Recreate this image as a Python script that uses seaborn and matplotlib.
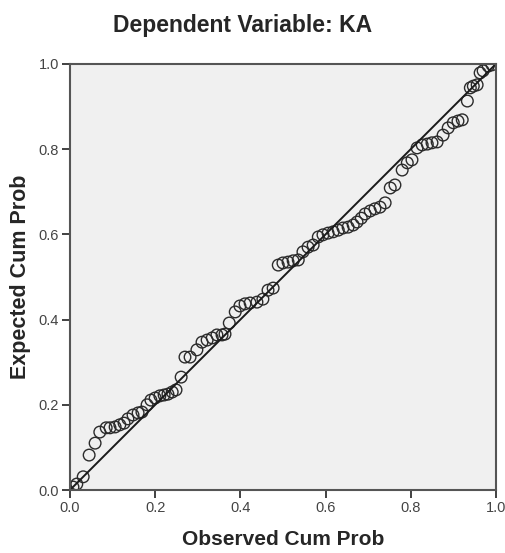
import matplotlib
matplotlib.use('Agg')
import matplotlib.pyplot as plt
import seaborn as sns
import pandas as pd

# observed vs expected cumulative probability
observed = [0.007, 0.016, 0.031, 0.045, 0.059, 0.070, 0.085, 0.094, 0.106, 0.117,
            0.127, 0.136, 0.148, 0.160, 0.169, 0.181, 0.190, 0.200, 0.211, 0.221,
            0.230, 0.240, 0.249, 0.261, 0.270, 0.282, 0.298, 0.310, 0.322, 0.334,
            0.345, 0.357, 0.364, 0.374, 0.388, 0.399, 0.411, 0.423, 0.439, 0.453,
            0.465, 0.477, 0.489, 0.500, 0.512, 0.524, 0.536, 0.547, 0.559, 0.571,
            0.583, 0.594, 0.606, 0.618, 0.630, 0.641, 0.653, 0.665, 0.674, 0.684,
            0.693, 0.705, 0.716, 0.728, 0.740, 0.752, 0.763, 0.780, 0.792, 0.803,
            0.815, 0.827, 0.839, 0.850, 0.862, 0.876, 0.888, 0.900, 0.911, 0.921,
            0.933, 0.940, 0.947, 0.956, 0.963, 0.970, 0.982, 0.991]
expected = [0.007, 0.014, 0.031, 0.082, 0.110, 0.136, 0.146, 0.146, 0.148, 0.153,
            0.157, 0.167, 0.176, 0.181, 0.183, 0.200, 0.211, 0.216, 0.221, 0.223,
            0.225, 0.230, 0.235, 0.265, 0.312, 0.312, 0.329, 0.347, 0.352, 0.357,
            0.364, 0.364, 0.366, 0.392, 0.418, 0.432, 0.437, 0.439, 0.441, 0.448,
            0.469, 0.474, 0.528, 0.533, 0.535, 0.538, 0.540, 0.559, 0.570, 0.575,
            0.594, 0.599, 0.603, 0.606, 0.610, 0.615, 0.617, 0.622, 0.629, 0.638,
            0.648, 0.655, 0.660, 0.664, 0.674, 0.709, 0.716, 0.751, 0.768, 0.775,
            0.803, 0.810, 0.812, 0.815, 0.817, 0.833, 0.850, 0.862, 0.866, 0.869,
            0.913, 0.944, 0.948, 0.951, 0.979, 0.984, 0.995, 0.998]
diag = [0.0, 1.0]
ticks = [0.0, 0.2, 0.4, 0.6, 0.8, 1.0]
tick_labels = ['0.0', '0.2', '0.4', '0.6', '0.8', '1.0']

sns.set_style("white")
plt.rcParams['font.family'] = ['Liberation Sans', 'DejaVu Sans']

df = pd.DataFrame({'obs': observed, 'exp': expected})

fig = plt.figure(figsize=(5.06, 5.53), dpi=100)
ax = fig.add_axes([0.1383, 0.1139, 0.8417, 0.7704])
ax.set_facecolor('#f0f0f0')

sns.lineplot(x=diag, y=diag, color='#1a1a1a', linewidth=1.4, ax=ax)
sns.scatterplot(data=df, x='obs', y='exp', ax=ax, s=70, marker='o',
                facecolor='none', edgecolor='#2b2b2b', linewidth=1.0)

ax.set_xlim(0, 1)
ax.set_ylim(0, 1)
ax.set_xticks(ticks)
ax.set_xticklabels(tick_labels)
ax.set_yticks(ticks)
ax.set_yticklabels(tick_labels)
ax.tick_params(axis='both', direction='out', length=6, width=1.3,
               color='#333333', labelsize=10.5, labelcolor='#444444', pad=2)
ax.tick_params(top=False, right=False, bottom=True, left=True)
for sp in ax.spines.values():
    sp.set_color('#555555')
    sp.set_linewidth(1.5)
    sp.set_visible(True)

ax.set_xlabel('Observed Cum Prob', fontsize=15, fontweight='bold', labelpad=11)
ax.set_ylabel('Expected Cum Prob', fontsize=15.5, fontweight='bold', labelpad=5)
fig.text(0.48, 0.953, 'Dependent Variable: KA', fontsize=16.5,
         fontweight='bold', ha='center', va='center')

plt.savefig('out.png', dpi=100)
